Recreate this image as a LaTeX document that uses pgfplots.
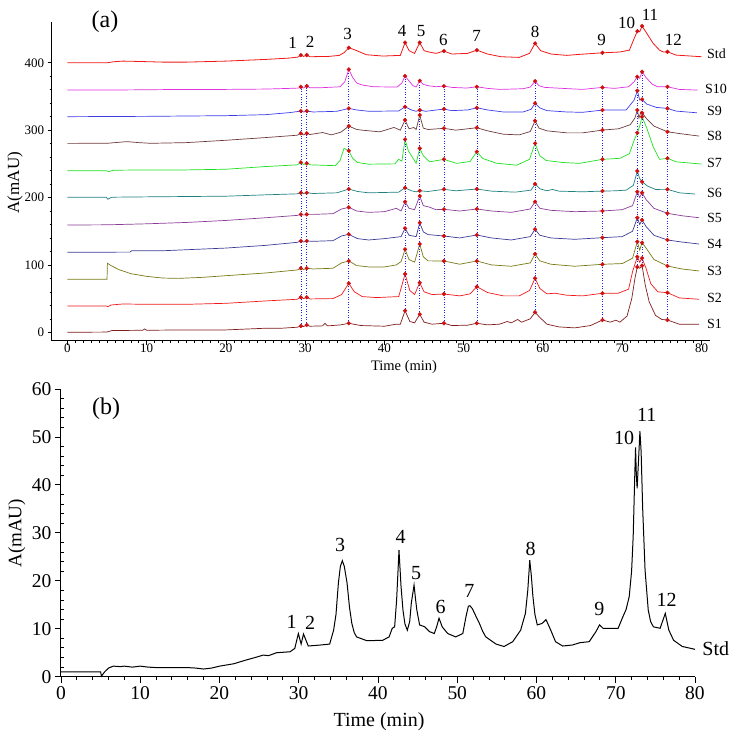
\documentclass[border=0pt]{standalone}
\usepackage{pgfplots}
\pgfplotsset{compat=1.18}
\usepackage{fontspec}
\setmainfont{Liberation Serif}
\newcommand{\fs}[1]{\fontsize{#1}{#1}\selectfont}
\definecolor{cStd}{HTML}{F01818}
\definecolor{cS10}{HTML}{E030E0}
\definecolor{cS9}{HTML}{3C3CE6}
\definecolor{cS8}{HTML}{6E3A3A}
\definecolor{cS7}{HTML}{1EE01E}
\definecolor{cS6}{HTML}{1E8080}
\definecolor{cS5}{HTML}{8A3C96}
\definecolor{cS4}{HTML}{3C3C96}
\definecolor{cS3}{HTML}{787814}
\definecolor{cS2}{HTML}{F01818}
\definecolor{cS1}{HTML}{801C1C}
\definecolor{cDot}{HTML}{D01010}
\definecolor{cVl}{HTML}{2020E0}
\begin{document}
\begin{tikzpicture}[x=1pt,y=1pt]
\useasboundingbox (0,0) rectangle (736,740);
\begin{axis}[at={(51.7pt,399.3pt)}, anchor=south west, scale only axis,
  width=658.3pt, height=319pt, xmin=-1.98, xmax=81.07, ymin=-12.5, ymax=461,
  axis x line=bottom, axis y line=left, axis line style={-, line width=0.8pt},
  tick align=outside, major tick length=4pt, minor tick length=2pt,
  xtick={0,10,...,80}, ytick={0,100,...,400}, minor x tick num=9, minor y tick num=4,
  tick style={line width=0.6pt, black},
  ticklabel style={font=\fs{13}}, xticklabel style={yshift=2.5pt, inner sep=1pt},
  /pgf/number format/assume math mode=true,
  clip=false]
% Std
\addplot[cStd, line width=0.8pt] coordinates {(0,400)(5,400)(5.8,401.5)(7,402.5)(9,402)(12,401)(15,401)(20,402.5)(25,405)(28,407)(29.1,408.5)(29.45,411.4)(29.8,409.5)(30.2,411.4)(30.6,409)(33,409.5)(34.3,411)(34.9,415)(35.5,422.3)(36.3,419)(37.7,412)(39.8,410)(42,411)(42.6,430)(43.1,418)(43.8,414)(44.45,430)(45,418)(45.6,416)(46.5,414)(47.5,417.4)(48.5,413)(50.5,414)(51.65,418.8)(53,413)(54.7,409)(57,408)(58.3,414)(59,428.8)(59.7,418)(61,413)(63,411)(64.6,412.5)(67.5,414.8)(69.7,416)(70.9,418.8)(71.5,436)(71.9,447)(72.2,446)(72.5,454.5)(73.1,443.6)(73.9,428.8)(74.7,418.8)(75.2,416)(75.7,416.3)(76.8,411.4)(80,409)};
% S10
\addplot[cS10, line width=0.7pt] coordinates {(0,359.5)(5,359.5)(10,360)(15,360.5)(20,360.5)(25,361)(28,362)(29.2,362.5)(29.45,364.4)(29.75,362.5)(30.2,365.4)(30.6,363)(32,363)(34.4,364.4)(35,372)(35.5,390.2)(36,378)(36.5,370)(37.2,367)(38.6,364.4)(41.6,364)(42.2,370)(42.6,380.3)(43.1,373)(43.6,366)(44,364)(44.45,373.3)(44.9,368)(45.5,366)(46.5,364.5)(47.5,365.4)(48.5,363.5)(50.4,362.5)(51.65,364.4)(53,362)(54.6,360.5)(57.5,361.5)(58.4,364)(59,372.8)(59.5,366)(60.2,363.5)(62.5,362)(65,360.5)(67.5,363.5)(69,362)(70.8,364.4)(71.5,372)(71.9,379.2)(72.2,377)(72.5,386.7)(73,378)(73.8,368)(74.5,364.4)(75.7,364.4)(77.2,360.5)(79.5,359.5)};
% S9
\addplot[cS9, line width=0.7pt] coordinates {(0,320)(10,320.5)(20,321.5)(25,323)(28,326)(29.45,328.3)(29.8,327)(30.2,328.3)(31,327)(34,328)(35.5,332.3)(36.5,330)(38,328)(41.8,328.5)(42.6,334.7)(43.4,330)(44,328)(44.45,329.8)(45.2,328)(47.5,331.3)(48.5,329)(50.5,330)(51.65,333.2)(53,330)(55,327)(57.5,327)(58.5,331)(59,339.8)(59.6,333)(60.5,329)(63,327)(65,326.5)(67.5,329.8)(70.5,330)(71.5,344.7)(71.9,358.5)(72.2,344.7)(72.5,345.7)(73.1,338.7)(74.3,333.8)(75.7,332.3)(76.8,328.3)(79.4,325.8)};
% S8
\addplot[cS8, line width=0.7pt] coordinates {(0,280.4)(5,280.5)(6.5,282)(7.5,283)(9,281.5)(10.5,280.5)(15,281.5)(20,285)(25,289)(29,292.5)(29.45,295.3)(29.8,293)(30.2,295.3)(30.6,293.5)(32.2,296.5)(33.3,293)(34.5,297)(35.5,306)(36.5,301)(37.2,300)(39.4,297.5)(41.2,304)(42,300)(42.6,315)(43.1,302)(43.7,304)(44,301)(44.45,322.4)(44.9,303)(45.5,301)(47.5,302.7)(49,300)(51.65,303.6)(53,299)(55,294)(57,293)(58.4,298)(59,313.9)(59.5,303)(60.5,299)(63,296)(65,296)(67.5,300.1)(69.5,302)(71,308)(71.6,318)(71.9,329.8)(72.1,318)(72.35,327)(72.5,325.8)(73,318)(74,306)(75.7,297.6)(77.2,295)(79.7,291.2)};
% S7
\addplot[cS7, line width=0.7pt] coordinates {(0,239.8)(4.9,239.8)(5.2,238.5)(5.8,240.5)(10,241)(15,241)(20,242)(25,246)(29,248.5)(29.45,252.2)(29.8,249)(30.2,250.7)(30.7,248.5)(33.8,247.3)(34.4,255)(34.9,273)(35.2,271)(35.5,269.4)(36,258)(36.6,252)(38,249.5)(41.3,250)(41.8,256.7)(42.2,254)(42.6,286.3)(43,270)(43.5,260)(44,251)(44.45,273)(44.9,262)(45.7,253)(47.5,256.7)(49.1,250.7)(50.8,253.5)(51.65,268)(52.4,258)(54.1,251)(56.7,248)(58.3,256.7)(59,280.4)(59.6,262)(60.4,255)(62.5,252)(64.6,250.7)(67.5,256.7)(69.7,258.2)(70.9,265)(71.5,285)(71.9,296.1)(72.2,306)(72.5,320)(73.1,302.7)(73.9,275.4)(74.7,256.7)(75.7,258.2)(76.8,253)(80,249.7)};
% S6
\addplot[cS6, line width=0.7pt] coordinates {(0,200.3)(4.9,200.3)(5.1,197.5)(5.6,200.5)(10,201)(20,202)(25,204)(29,205.5)(29.45,207.1)(29.8,206)(30.2,207.1)(31,206)(34,207)(35.5,212.6)(36.6,209)(38,207)(41.8,208)(42.6,214.5)(43.4,210)(44,208.5)(44.45,210)(45.5,209)(47.5,212.2)(49,210)(51.65,212.6)(53.5,209.5)(56.5,208)(58.5,211)(59,220)(59.6,213)(60.5,210)(61.2,212)(62,209.5)(65,208.5)(67.5,209.6)(69.2,210)(70.5,211)(71.4,218)(71.9,239.3)(72.2,228)(72.5,223.4)(73.2,217)(74.2,212)(75.7,212.2)(77.2,207)(79.2,205.2)};
% S5
\addplot[cS5, line width=0.7pt] coordinates {(0,159.2)(5,159.5)(10,161)(15,163)(20,166)(25,170)(29,173.5)(29.45,175)(29.8,174)(30.2,175)(31,175)(33.5,176)(34.6,183)(35.5,185.4)(36.5,180)(38,178)(40,179)(41.5,184)(42.1,180)(42.6,193.8)(43.1,184)(43.8,182)(44.45,202.2)(44.9,188)(45.6,186)(46.5,182)(47.5,182.5)(49.5,180)(51.65,183)(53.5,180)(56,178)(58.4,183)(59,193.8)(59.6,184)(61,181)(64,179)(67.5,180)(70,182)(71.3,188)(71.9,208.6)(72.2,200)(72.5,207.1)(73,197)(74,184)(75.7,176.6)(77.5,173)(79.7,170)};
% S4
\addplot[cS4, line width=0.7pt] coordinates {(0,118.7)(7.9,119)(8.1,121)(12,121)(20,125)(25,129)(29,133.5)(29.45,135.5)(29.8,134)(30.2,135.5)(31,135)(33.5,136)(34.6,143)(35.5,145.4)(36.6,139)(38,137)(40,139)(42.1,142)(42.6,154.3)(43.1,144)(44,142)(44.45,162.6)(44.9,149)(45.5,145)(47.5,142.9)(49.5,140)(51.65,144.4)(53.5,140)(56,137)(58.4,142)(59,152.8)(59.6,144)(61,140)(64,138)(67.5,140.4)(70,142)(71.3,150)(71.9,170)(72.2,160)(72.5,166.6)(73,157)(74,144)(75.7,137)(77.5,134)(79.7,131)};
% S3
\addplot[cS3, line width=0.7pt] coordinates {(0,78.6)(5,78.6)(5.05,102.4)(5.5,99)(6.5,93)(8,87)(10,83)(12,80.5)(14,80)(17,81.5)(20,84)(25,88)(29,92.5)(29.45,95)(29.8,93)(30.2,95)(31,94)(33.5,95)(34.6,103)(35.5,105.8)(36.5,99)(38,97)(40,97)(41.5,100)(42.1,105)(42.6,123.1)(43.1,108)(43.8,104)(44.45,131)(44.9,112)(45.5,106)(47.5,105.8)(49.5,101)(51.65,105.8)(53.5,100)(56,98)(58.4,103)(59,116.2)(59.6,106)(61,101)(64,98)(67.5,100.9)(70,102)(71.3,110)(71.9,134.4)(72.2,122)(72.5,133)(73,125)(74,108)(75.7,98.4)(77.5,94)(79.7,91)};
% S2
\addplot[cS2, line width=0.7pt] coordinates {(0,39)(4.9,39)(5.1,38)(5.5,40.5)(7,42)(10,41.5)(15,41.5)(20,43)(25,46.5)(29,49)(29.45,51.9)(29.8,50)(30.2,51.9)(30.6,49.5)(33.5,50)(34.6,56)(35.5,72.7)(36.2,60)(37.2,53)(39,51.5)(41.8,53)(42.6,86.5)(43.2,62)(43.8,56)(44.45,73.6)(45,60)(46,56)(47.5,56.8)(49.5,54)(50.8,57)(51.65,67.7)(53,59)(55,54)(57,54)(58.3,62)(59,80.1)(59.6,65)(60.5,57)(61.5,58)(63,55)(65,54)(67.5,57.9)(69.5,58)(70.8,64)(71.3,90)(71.9,112)(72.2,104)(72.5,110)(73,95)(73.6,72)(74.5,60)(75.7,58.8)(77.2,51)(79.7,49)};
% S1
\addplot[cS1, line width=0.7pt] coordinates {(0,0)(5,0.3)(5.6,2.5)(9.5,3)(9.75,5)(10,3)(15,3.5)(20,3.5)(23,5)(25,6)(27,6)(29,7.5)(29.45,9.3)(29.8,8.5)(30.2,10.8)(30.6,9)(32.2,9.5)(32.5,13.4)(32.8,9.5)(34.5,11)(35.5,13.4)(37,10)(40,9)(41.5,12)(42,12)(42.6,32)(43.2,16)(43.8,14)(44.45,26.7)(45,15)(46,12)(47.5,13.4)(48.5,10)(50.5,10.5)(51.65,13.4)(53,11)(54.5,12)(55.5,16)(56,14)(56.8,19)(57.3,15)(58.4,20)(59,29.7)(59.6,22)(60.5,12)(62,8)(64,6.5)(66,10)(67.5,18.2)(68.5,15)(69.2,18)(69.7,15)(70.6,24)(71.2,50)(71.6,80)(71.9,97)(72.2,95)(72.5,99)(72.9,70)(73.4,45)(74.2,25)(75,19)(75.7,18.2)(77.2,12)(79.7,11.9)};
% vertical dotted lines S1 -> S10
\addplot[cVl, dotted, line width=0.6pt] coordinates {(29.45,9.3)(29.45,364.4)};
\addplot[cVl, dotted, line width=0.6pt] coordinates {(30.2,10.8)(30.2,365.4)};
\addplot[cVl, dotted, line width=0.6pt] coordinates {(35.5,13.4)(35.5,390.2)};
\addplot[cVl, dotted, line width=0.6pt] coordinates {(42.6,32)(42.6,380.3)};
\addplot[cVl, dotted, line width=0.6pt] coordinates {(44.45,26.7)(44.45,373.3)};
\addplot[cVl, dotted, line width=0.6pt] coordinates {(47.5,13.4)(47.5,365.4)};
\addplot[cVl, dotted, line width=0.6pt] coordinates {(51.65,13.4)(51.65,364.4)};
\addplot[cVl, dotted, line width=0.6pt] coordinates {(59,29.7)(59,372.8)};
\addplot[cVl, dotted, line width=0.6pt] coordinates {(67.5,18.2)(67.5,363.5)};
\addplot[cVl, dotted, line width=0.6pt] coordinates {(71.9,97)(71.9,379.2)};
\addplot[cVl, dotted, line width=0.6pt] coordinates {(72.5,99)(72.5,386.7)};
\addplot[cVl, dotted, line width=0.6pt] coordinates {(75.7,18.2)(75.7,364.4)};
% peak markers
\addplot[only marks, mark=*, mark size=1.9pt, cDot] coordinates {
(29.45,411.4)(30.2,411.4)(35.5,422.3)(42.6,430)(44.45,430)(47.5,417.4)(51.65,418.8)(59,428.8)(67.5,414.8)(71.9,447)(72.5,454.5)(75.7,416.3)
(29.45,364.4)(30.2,365.4)(35.5,390.2)(42.6,380.3)(44.45,373.3)(47.5,365.4)(51.65,364.4)(59,372.8)(67.5,363.5)(71.9,379.2)(72.5,386.7)(75.7,364.4)
(29.45,328.3)(30.2,328.3)(35.5,332.3)(42.6,334.7)(44.45,329.8)(47.5,331.3)(51.65,333.2)(59,339.8)(67.5,329.8)(71.9,358.5)(72.5,345.7)(75.7,332.3)
(29.45,295.3)(30.2,295.3)(35.5,306)(42.6,315)(44.45,322.4)(47.5,302.7)(51.65,303.6)(59,313.9)(67.5,300.1)(71.9,329.8)(72.5,325.8)(75.7,297.6)
(29.45,252.2)(30.2,250.7)(35.5,269.4)(42.6,286.3)(44.45,273)(47.5,256.7)(51.65,268)(59,280.4)(67.5,256.7)(71.9,296.1)(72.5,320)(75.7,258.2)
(29.45,207.1)(30.2,207.1)(35.5,212.6)(42.6,214.5)(44.45,210)(47.5,212.2)(51.65,212.6)(59,220)(67.5,209.6)(71.9,239.3)(72.5,223.4)(75.7,212.2)
(29.45,175)(30.2,175)(35.5,185.4)(42.6,193.8)(44.45,202.2)(47.5,182.5)(51.65,183)(59,193.8)(67.5,180)(71.9,208.6)(72.5,207.1)(75.7,176.6)
(29.45,135.5)(30.2,135.5)(35.5,145.4)(42.6,154.3)(44.45,162.6)(47.5,142.9)(51.65,144.4)(59,152.8)(67.5,140.4)(71.9,170)(72.5,166.6)(75.7,137)
(29.45,95)(30.2,95)(35.5,105.8)(42.6,123.1)(44.45,131)(47.5,105.8)(51.65,105.8)(59,116.2)(67.5,100.9)(71.9,134.4)(72.5,133)(75.7,98.4)
(29.45,51.9)(30.2,51.9)(35.5,72.7)(42.6,86.5)(44.45,73.6)(47.5,56.8)(51.65,67.7)(59,80.1)(67.5,57.9)(71.9,112)(72.5,110)(75.7,58.8)
(29.45,9.3)(30.2,10.8)(35.5,13.4)(42.6,32)(44.45,26.7)(47.5,13.4)(51.65,13.4)(59,29.7)(67.5,18.2)(71.9,97)(72.5,99)(75.7,18.2)};
\end{axis}
\begin{axis}[at={(61pt,63.3pt)}, anchor=south west, scale only axis,
  width=634pt, height=287.7pt, xmin=0, xmax=80, ymin=0, ymax=60,
  axis x line=bottom, axis y line=left, axis line style={-, line width=1pt},
  tick align=outside, major tick length=6pt, minor tick length=3pt,
  xtick={0,10,...,80}, ytick={0,10,...,60}, minor x tick num=4, minor y tick num=4,
  tick style={line width=0.9pt, black},
  minor y tick style={xshift=3pt},
  ticklabel style={font=\fs{19.5}}, /pgf/number format/assume math mode=true,
  clip=false]
\addplot[black, line width=1pt] coordinates {(0,1.0)(5.0,1.0)(5.1,0.1)(5.5,1.0)(6.0,1.8)(6.6,2.2)(7.5,2.1)(8,2.2)(9,2.0)(10,2.2)(11,2.0)(12,1.9)(14,1.9)(16,1.9)(17,1.8)(18,1.6)(19,1.8)(20,2.2)(21.8,2.7)(23.4,3.5)(24.5,4.0)(25.5,4.5)(26.2,4.4)(27.2,5.0)(28.9,5.2)(29.5,5.9)(29.95,9.0)(30.3,6.8)(30.6,8.9)(31.2,6.4)(32.7,6.6)(33.9,6.8)(34.4,9.7)(34.7,13)(35.0,19.5)(35.25,23)(35.5,24.2)(35.75,23)(36.1,19.5)(36.4,14.5)(36.7,11.1)(37.0,9.2)(37.3,8.3)(38.6,7.5)(40.6,7.6)(41.4,8.3)(41.8,10.1)(42.1,10.4)(42.35,16)(42.65,26.4)(42.9,19)(43.15,13.9)(43.4,11)(43.7,9.7)(44.0,11.5)(44.2,15.3)(44.55,19.1)(44.75,16)(44.9,13.9)(45.25,10.8)(45.9,10.4)(46.5,9.4)(47.1,9.0)(47.4,10.4)(47.7,12.2)(48.1,10.4)(48.8,9.0)(49.8,8.3)(50.7,9.0)(51.1,12.5)(51.4,14.7)(51.6,14.8)(51.9,14.2)(52.3,12.8)(52.8,11.1)(53.2,9.5)(53.6,8.3)(54.9,6.8)(55.9,6.3)(57.0,7.3)(58.0,9.7)(58.6,13.2)(58.9,18)(59.15,24.3)(59.35,21)(59.55,16.7)(59.8,13)(60.1,10.8)(60.7,11.1)(61.2,11.9)(61.8,9.7)(62.4,7.3)(63.3,6.4)(64.5,6.6)(65.5,7.1)(66.65,7.3)(67.5,9.4)(67.95,10.8)(68.4,10.1)(70.3,10.1)(70.9,12.5)(71.3,14)(71.7,16.7)(72.0,22)(72.2,29.2)(72.4,42)(72.5,47.8)(72.6,42)(72.7,39.3)(72.9,46)(73.05,51.2)(73.2,47)(73.4,35)(73.7,22.2)(74.1,13.9)(74.4,11.5)(74.75,10.4)(75.6,10.1)(76.25,13.2)(76.7,9.7)(77.3,7.6)(78.4,6.3)(79.5,5.9)(80.0,5.7)};
\end{axis}
% ---- texts, panel (a)
\node[font=\fs{24}] at (105,718.3) {(a)};
\node[font=\fs{17}, rotate=90] at (15,557.3) {A(mAU)};
\node[font=\fs{14.5}, inner sep=1pt] at (404,373) {Time (min)};
\begin{scope}[every node/.style={font=\fs{17}}]
\node at (292.7,696.7) {1};
\node at (310,698.3) {2};
\node at (347.7,705.7) {3};
\node at (402,709) {4};
\node at (421,709) {5};
\node at (443.3,700) {6};
\node at (476.7,704) {7};
\node at (535,707.7) {8};
\node at (601.7,700) {9};
\node at (626.7,716.7) {10};
\node at (650,725) {11};
\node at (673.3,700) {12};
\end{scope}
\begin{scope}[every node/.style={font=\fs{14}, anchor=west, inner sep=0pt}]
\node at (707,686.7) {Std};
\node at (705,650.7) {S10};
\node at (707,629) {S9};
\node at (707,604) {S8};
\node at (707,576.7) {S7};
\node at (707,547.3) {S6};
\node at (707,522.3) {S5};
\node at (707,496) {S4};
\node at (707,469) {S3};
\node at (707,442.3) {S2};
\node at (707,416) {S1};
\end{scope}
% ---- texts, panel (b)
\node[font=\fs{24}] at (106,331.7) {(b)};
\node[font=\fs{19}, rotate=90] at (16.7,206.7) {A(mAU)};
\node[font=\fs{20}] at (379,18) {Time (min)};
\begin{scope}[every node/.style={font=\fs{20}}]
\node at (291.7,118.3) {1};
\node at (310,116.7) {2};
\node at (340,195) {3};
\node at (400.7,203.3) {4};
\node at (416,166.7) {5};
\node at (440.7,132.7) {6};
\node at (469.3,149.3) {7};
\node at (530.7,190.7) {8};
\node at (599.3,130.7) {9};
\node at (624,301.7) {10};
\node at (646.7,325) {11};
\node at (666.7,140) {12};
\node at (715.8,91.7) {Std};
\end{scope}
\end{tikzpicture}
\end{document}
